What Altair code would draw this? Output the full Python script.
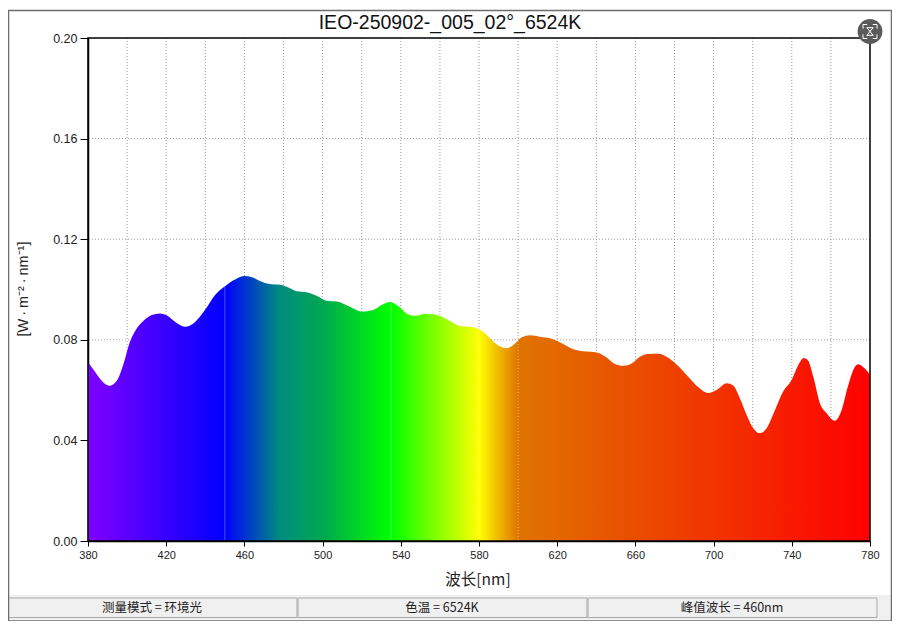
import altair as alt
import pandas as pd

wavelength = [380,383.6,387,390.9,394.7,398,401.5,405,408.3,412.6,416.8,420.6,424.5,429.6,433.9,439.9,445,450.4,
              455.2,460.3,464.6,468.9,472.2,479,483.3,486.7,491.8,496.9,502,507.2,514,520,525.9,530.2,534.5,538.7,
              543.8,547.3,553.2,560,565.2,570.3,576.2,581.4,585.6,589.9,594.1,597.5,601.9,606.1,611.2,617.2,622.3,
              628.3,633.4,640.2,645.3,649.5,653.8,658.1,662.3,666.6,671.7,676.8,681.9,687,692.2,697.3,701.5,706.7,
              710,713.5,716.9,720.3,723.7,727.1,731.4,735.6,739.9,743.3,746.2,748.4,751,754.4,757.8,762,765.5,
              768.9,772.3,774,776.6,780]
irradiance = [.0712,.0673,.0637,.0617,.0637,.0700,.0793,.0846,.0875,.0899,.0905,.0896,.0872,.0852,.0865,.0919,.0978,.1015,
              .1040,.1054,.1047,.1031,.1023,.1018,.1005,.0993,.0989,.0975,.0955,.0952,.0931,.0912,.0918,.0938,.0950,.0934,
              .0901,.0896,.0904,.0895,.0875,.0855,.0851,.0836,.0806,.0777,.0766,.0779,.0810,.0818,.0812,.0804,.0786,
              .0762,.0754,.0750,.0730,.0704,.0697,.0706,.0733,.0744,.0745,.0729,.0696,.0653,.0611,.0588,.0600,.0627,
              .0618,.0567,.0501,.0448,.0428,.0448,.0521,.0594,.0640,.0700,.0728,.0717,.0653,.0547,.0508,.0478,.0521,
              .0620,.0693,.0703,.0691,.0662]

title_text = "IEO-250902-_005_02°_6524K"
x_title = "波长[nm]"
y_title = "[W\u2009·\u2009m⁻²\u2009·\u2009nm⁻¹]"
x_ticks = [380,420,460,500,540,580,620,660,700,740,780]
y_ticks = [0.0,0.04,0.08,0.12,0.16,0.20]
x_grid = [400,420,440,460,480,500,520,540,560,580,600,620,640,660,680,700,720,740,760]
y_grid = [0.04,0.08,0.12,0.16]
solid_marks = [450,535]
solid_tops = [0.1012,0.0948]
dotted_marks = [580,600]
dotted_tops = [0.0840,0.0795]
status_texts = ["测量模式 = 环境光","色温 = 6524K","峰值波长 = 460nm"]

stop_nm = [380,450,478,500,535,580,600,780]
stop_colors = ["#8000ff","#0000ff","#008c80","#00a850","#00ff00","#ffff00","#e07400","#ff0000"]

X = alt.Scale(domain=[380,780], nice=False, zero=False)
Y = alt.Scale(domain=[0,0.2], nice=False)
UI = "Noto Sans CJK SC"
LAT = "Liberation Sans"

x_axis = alt.Axis(values=x_ticks,format="d",title=None,grid=False,domainColor="black",domainWidth=1.5,
                  tickColor="black",tickSize=5,labelFont=LAT,labelFontSize=11,labelColor="#222222",labelPadding=3,labelFlush=False)
y_axis = alt.Axis(values=y_ticks,format=".2f",title=None,grid=False,domainColor="black",domainWidth=1.5,
                  tickColor="black",tickSize=8,labelFont=LAT,labelFontSize=12.5,labelColor="#222222",labelPadding=3)

def ox(v): return v-88
def oy(v): return v-38

def box(x0,x1,y0,y1,**kw):
    return alt.Chart(pd.DataFrame({"a":[0]})).mark_rect(**kw).encode(
        x=alt.value(ox(x0)),x2=alt.value(ox(x1)),y=alt.value(oy(y0)),y2=alt.value(oy(y1)))

def label(t,x0,y0,**kw):
    return alt.Chart(pd.DataFrame({"a":[0]})).mark_text(**kw).encode(
        x=alt.value(ox(x0)),y=alt.value(oy(y0)),text=alt.value(t))

frame = box(8.5,891.5,10.5,621,fillOpacity=0,stroke="#6e6e6e",strokeWidth=1.5)
status_bg = box(9,891,595,620,fill="#f0f0f0")
status = [box(a,b,598,617.5,fill="#f0f0f0",stroke="#a8a8a8",strokeWidth=1) for a,b in [(8.5,297,),(298,587),(588,877)]]
status_lbl = [label(t,c,608,font=UI,fontSize=12.5,color="#222222",align="center",baseline="middle")
              for t,c in zip(status_texts,[152,442,732])]

grid_v = alt.Chart(pd.DataFrame({"nm":x_grid})).mark_rule(color="#9a9a9a",strokeDash=[1,2],strokeWidth=1).encode(
    x=alt.X("nm:Q",scale=X,axis=x_axis))
grid_h = alt.Chart(pd.DataFrame({"v":y_grid})).mark_rule(color="#9a9a9a",strokeDash=[1,2],strokeWidth=1).encode(
    y=alt.Y("v:Q",scale=Y,axis=y_axis))

gradient = alt.Gradient(gradient="linear",x1=0,x2=1,y1=0,y2=0,
    stops=[alt.GradientStop(offset=(n-380)/400,color=c) for n,c in zip(stop_nm,stop_colors)])
df = pd.DataFrame({"nm":wavelength,"v":irradiance})
area = alt.Chart(df).mark_area(interpolate="monotone",fill=gradient).encode(
    x=alt.X("nm:Q",scale=X,axis=x_axis),
    y=alt.Y("v:Q",scale=Y,axis=y_axis))

solid = alt.Chart(pd.DataFrame({"nm":solid_marks,"v":solid_tops})).mark_rule(color="white",opacity=0.3,strokeWidth=1).encode(
    x=alt.X("nm:Q",scale=X,axis=x_axis),
    y=alt.Y("v:Q",scale=Y,axis=y_axis),
    y2=alt.value(oy(541)))
dotted = alt.Chart(pd.DataFrame({"nm":dotted_marks,"v":dotted_tops})).mark_rule(color="white",opacity=0.5,strokeDash=[1,2],strokeWidth=1).encode(
    x=alt.X("nm:Q",scale=X,axis=x_axis),
    y=alt.Y("v:Q",scale=Y,axis=y_axis),
    y2=alt.value(oy(541)))

border = box(88,870,38,541,fillOpacity=0,stroke="black",strokeWidth=1.5)

title = label(title_text,450,23,font=LAT,fontSize=19.5,color="#111111",align="center",baseline="middle")
xt = label(x_title,478,580,font=UI,fontSize=15.5,color="#222222",align="center",baseline="middle")
yt = label(y_title,24,289,font=LAT,fontSize=14.5,color="#222222",align="center",baseline="middle",angle=270)

one = pd.DataFrame({"a":[0]})
btn = alt.Chart(one).mark_point(shape="circle",size=616,filled=True,color="#5a5a5a",opacity=1).encode(
    x=alt.value(ox(870)),y=alt.value(oy(31.5)))
icon_path = ("M-1,-0.4 L-1,-1 L-0.4,-1 M0.4,-1 L1,-1 L1,-0.4 M1,0.4 L1,1 L0.4,1 M-0.4,1 L-1,1 L-1,0.4 "
             "M-0.5,-0.55 L0.5,-0.55 M-0.4,-0.5 L0.4,0.5 M0.4,-0.5 L-0.4,0.5 M-0.5,0.55 L0.5,0.55")
icon = alt.Chart(one).mark_point(shape=icon_path,size=196,filled=False,color="white",strokeWidth=1,opacity=1).encode(
    x=alt.value(ox(870)),y=alt.value(oy(31.5)))

chart = alt.layer(status_bg,*status,*status_lbl,frame,grid_v,grid_h,area,solid,dotted,border,title,xt,yt,btn,icon).properties(
    width=782,height=503,
    autosize=alt.AutoSizeParams(type="none"),
    padding={"left":80,"top":30,"right":22,"bottom":80},
    background="white"
).configure_view(stroke=None)

chart.save("out.html",embed_options={"renderer":"svg","actions":False})
